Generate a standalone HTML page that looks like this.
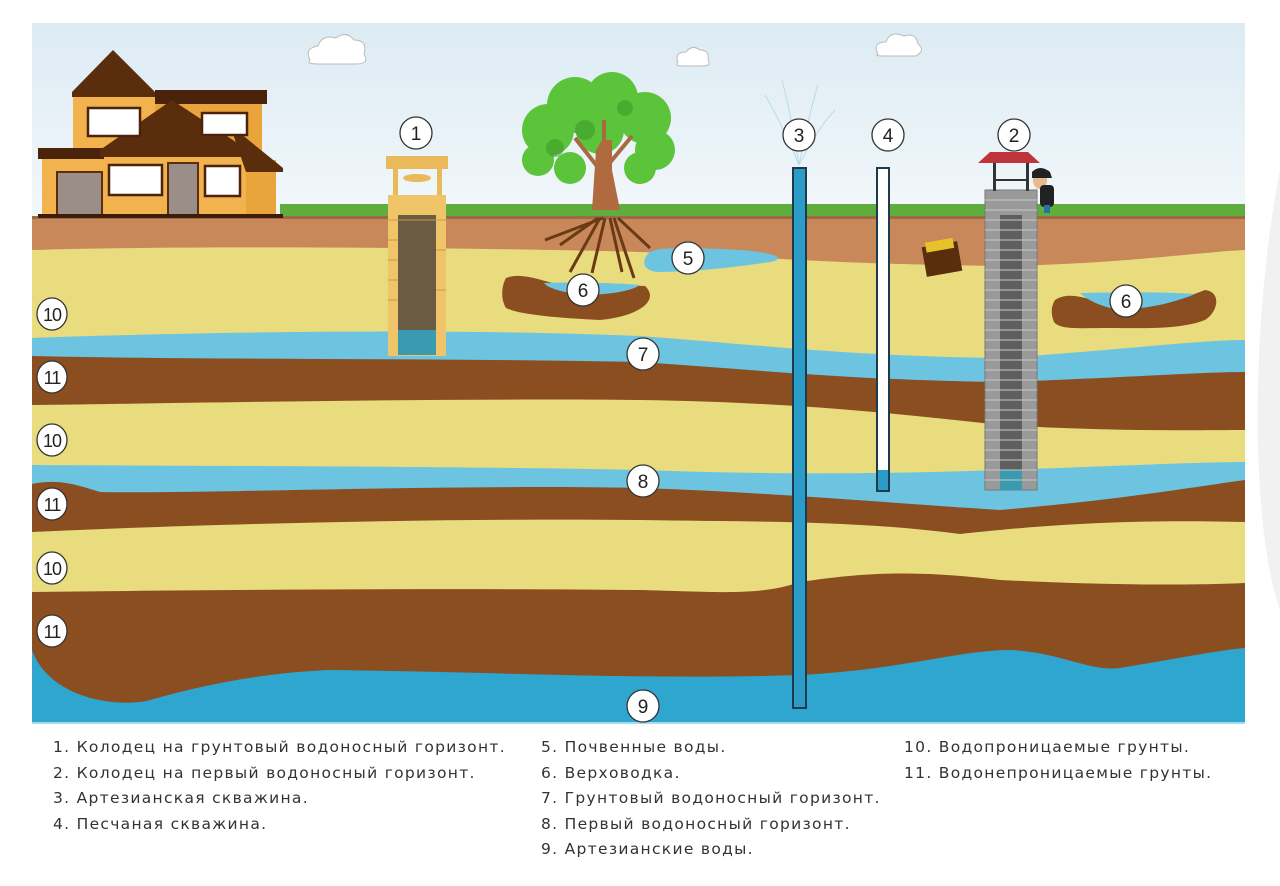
<!DOCTYPE html>
<html><head><meta charset="utf-8"><style>
html,body{margin:0;padding:0;background:#fff;}
body{width:1280px;height:886px;overflow:hidden;position:relative;font-family:"Liberation Sans","DejaVu Sans",sans-serif;}
svg{position:absolute;left:0;top:0;}
.lg{position:absolute;font-family:"DejaVu Sans","Liberation Sans",sans-serif;font-size:15.5px;letter-spacing:1.3px;color:#333;line-height:25.5px;white-space:nowrap;}
</style></head><body>
<svg width="1280" height="886" viewBox="0 0 1280 886" font-family="Liberation Sans, DejaVu Sans, sans-serif">
<defs>
<linearGradient id="sky" x1="0" y1="0" x2="0" y2="1"><stop offset="0" stop-color="#dcebf3"/><stop offset="1" stop-color="#f3f8fb"/></linearGradient>
<clipPath id="cp"><rect x="32" y="23" width="1213" height="701"/></clipPath>
</defs>
<path d="M1280 170 Q1255 300 1258 450 Q1262 560 1280 610 Z" fill="#f1f1f1"/>
<g clip-path="url(#cp)">
<rect x="32" y="23" width="1213" height="200" fill="url(#sky)"/>
<g fill="#fff" stroke="#bbb" stroke-width="1">
<path d="M310 60 q-6-12 8-14 q4-12 18-8 q10-8 18 2 q14 0 10 14 q6 10-8 10 h-38 q-12 0-8-4z"/>
<path d="M678 62 q-4-10 8-10 q6-8 14-2 q10 0 8 10 q4 6-6 6 h-20 q-8 0-4-4z"/>
<path d="M878 54 q-6-12 8-12 q4-12 18-6 q12-4 14 8 q8 6-2 12 h-32 q-10 0-6-2z"/>
</g>
<g stroke="#9fd3ea" stroke-width="1" fill="none" opacity="0.7">
<path d="M799 165 Q780 120 765 95"/><path d="M799 165 Q790 110 782 80"/><path d="M799 165 Q810 110 818 85"/><path d="M799 165 Q820 125 835 110"/>
</g>
<rect x="32" y="216" width="1213" height="510" fill="#c9885a"/>
<path d="M32 250 C200 245 500 248 640 252 C760 256 820 264 1000 266 C1120 264 1200 252 1245 250 V726 H32Z" fill="#e9dc7e"/>
<path d="M32 338 C200 332 450 328 640 336 C760 345 850 356 1000 358 C1120 350 1200 340 1245 340 V726 H32Z" fill="#6dc4e0"/>
<path d="M32 356 C200 360 450 358 640 362 C760 370 850 380 1000 382 C1120 378 1200 372 1245 372 V726 H32Z" fill="#8a4e21"/>
<path d="M32 405 C200 403 450 398 640 400 C760 402 850 408 1000 425 C1120 432 1200 430 1245 430 V726 H32Z" fill="#e9dc7e"/>
<path d="M32 465 C200 466 450 466 640 470 C760 474 850 475 1000 470 C1120 466 1200 462 1245 462 V726 H32Z" fill="#6dc4e0"/>
<path d="M32 484 C60 478 80 486 100 492 C200 494 450 484 640 488 C760 492 850 500 1000 510 C1120 500 1200 486 1245 480 V726 H32Z" fill="#8a4e21"/>
<path d="M32 532 C200 524 450 518 640 520 C760 522 850 520 960 534 C1000 530 1100 518 1245 522 V726 H32Z" fill="#e9dc7e"/>
<path d="M32 592 C200 590 450 588 640 590 C720 592 760 596 800 582 C850 575 900 568 1000 580 C1120 586 1200 585 1245 583 V726 H32Z" fill="#8a4e21"/>
<path d="M32 650 C50 700 120 708 150 700 C220 680 280 672 330 670 C500 672 640 680 800 675 C900 670 960 650 1010 650 C1060 652 1090 672 1120 668 C1180 658 1220 650 1245 648 V726 H32Z" fill="#2ea6cf"/>
<rect x="32" y="722" width="1213" height="3" fill="#a6dbea"/>
<rect x="280" y="204" width="965" height="14" fill="#5fae3d"/>
<rect x="32" y="216" width="1213" height="3" fill="#9a6b45"/>
<path d="M650 252 C660 246 700 248 740 250 C770 252 790 258 770 262 C730 268 690 272 660 272 C640 272 642 258 650 252Z" fill="#6dc4e0"/>
<path d="M506 278 C520 272 540 280 560 285 C590 290 620 285 645 286 C660 300 640 316 600 320 C560 318 520 315 506 308 C500 298 502 285 506 278Z" fill="#8a4e21"/>
<path d="M544 283 C570 282 620 283 640 285 C630 292 600 296 580 294 C560 292 548 288 544 283Z" fill="#6dc4e0"/>
<path d="M1055 300 C1070 290 1090 300 1110 305 C1140 310 1180 300 1205 290 C1222 292 1218 312 1205 320 C1180 330 1140 328 1110 328 C1080 328 1060 330 1054 322 C1050 312 1052 305 1055 300Z" fill="#8a4e21"/>
<path d="M1080 293 C1120 292 1170 292 1195 294 C1170 305 1130 312 1110 308 C1095 304 1085 298 1080 293Z" fill="#6dc4e0"/>
<g stroke="#6a3a14" stroke-width="3" fill="none">
<path d="M598 218 L560 245"/><path d="M600 218 L570 272"/><path d="M605 218 L592 273"/><path d="M610 218 L622 272"/><path d="M614 218 L634 278"/><path d="M618 218 L650 248"/><path d="M603 218 L545 240"/>
</g>
<g fill="#5cc43a">
<circle cx="548" cy="130" r="26"/><circle cx="575" cy="105" r="28"/><circle cx="612" cy="98" r="26"/><circle cx="645" cy="118" r="26"/><circle cx="655" cy="150" r="20"/><circle cx="538" cy="160" r="16"/><circle cx="570" cy="168" r="16"/><circle cx="640" cy="168" r="16"/><circle cx="600" cy="130" r="24"/>
</g>
<g fill="#3e9d2a" opacity="0.6"><circle cx="585" cy="130" r="10"/><circle cx="625" cy="108" r="8"/><circle cx="555" cy="148" r="9"/></g>
<g stroke="#a86a40" stroke-width="4" fill="none"><path d="M600 170 L575 138"/><path d="M608 165 L632 136"/><path d="M604 160 L604 120"/></g>
<path d="M592 210 L596 150 L602 140 L612 140 L612 170 L620 210Z" fill="#b06a40"/>
<rect x="42" y="158" width="62" height="58" fill="#f2b24e"/>
<rect x="73" y="96" width="82" height="60" fill="#f2b24e"/>
<rect x="155" y="103" width="107" height="52" fill="#e9a43c"/>
<rect x="102" y="153" width="146" height="63" fill="#f2b24e"/>
<rect x="246" y="160" width="30" height="56" fill="#e9a43c"/>
<polygon points="113,50 72,92 72,97 155,97 155,92" fill="#5a2d0c"/>
<rect x="155" y="90" width="112" height="14" fill="#4a230a"/>
<rect x="38" y="148" width="66" height="11" fill="#4a230a"/>
<polygon points="230,125 283,168 283,172 246,172" fill="#5a2d0c"/>
<polygon points="172,100 100,150 100,157 248,157 248,150" fill="#5a2d0c"/>
<rect x="57" y="172" width="45" height="44" fill="#9b8e88" stroke="#5a2d0c" stroke-width="2"/>
<rect x="168" y="163" width="30" height="53" fill="#9b8e88" stroke="#5a2d0c" stroke-width="2"/>
<g fill="#fff" stroke="#4a230a" stroke-width="2.5">
<rect x="88" y="108" width="52" height="28"/><rect x="202" y="113" width="45" height="22"/>
<rect x="109" y="165" width="53" height="30"/><rect x="205" y="166" width="35" height="30"/>
</g>
<rect x="38" y="214" width="245" height="4" fill="#3d1d08"/>
<rect x="388" y="210" width="58" height="146" fill="#f0c56a"/>
<rect x="398" y="215" width="38" height="140" fill="#6b5b45"/>
<rect x="398" y="330" width="38" height="25" fill="#3a9bb0"/>
<g stroke="#c79a45" stroke-width="1">
<line x1="388" y1="220" x2="446" y2="220"/><line x1="388" y1="240" x2="398" y2="240"/><line x1="388" y1="260" x2="398" y2="260"/><line x1="388" y1="280" x2="398" y2="280"/><line x1="388" y1="300" x2="398" y2="300"/><line x1="436" y1="250" x2="446" y2="250"/><line x1="436" y1="290" x2="446" y2="290"/>
</g>
<rect x="386" y="156" width="62" height="13" fill="#e9b95a"/>
<rect x="393" y="169" width="5" height="35" fill="#e9b95a"/><rect x="437" y="169" width="5" height="35" fill="#e9b95a"/>
<ellipse cx="417" cy="178" rx="14" ry="4" fill="#e9b95a"/>
<rect x="388" y="195" width="58" height="16" fill="#f0c56a"/>
<rect x="793" y="168" width="13" height="540" fill="#2b9cc7" stroke="#1d3b4a" stroke-width="2"/>
<rect x="877" y="168" width="12" height="323" fill="#fff" stroke="#1d3b4a" stroke-width="2"/>
<rect x="878" y="470" width="10" height="20" fill="#2b9cc7"/>
<rect x="924" y="244" width="36" height="30" fill="#5a2d0c" transform="rotate(-10 942 259)"/>
<rect x="928" y="240" width="28" height="10" fill="#e8c22a" transform="rotate(-10 942 259)"/>
<rect x="985" y="190" width="52" height="300" fill="#9a9a9a" stroke="#777" stroke-width="1"/>
<rect x="1000" y="215" width="22" height="275" fill="#5f5f5f"/>
<rect x="1000" y="470" width="22" height="20" fill="#3a9bb0"/>
<g stroke="#c8c8c8" stroke-width="1">
<line x1="985" y1="200" x2="1037" y2="200"/><line x1="985" y1="210" x2="1037" y2="210"/><line x1="985" y1="220" x2="1037" y2="220"/><line x1="985" y1="230" x2="1037" y2="230"/><line x1="985" y1="240" x2="1037" y2="240"/><line x1="985" y1="250" x2="1037" y2="250"/><line x1="985" y1="260" x2="1037" y2="260"/><line x1="985" y1="270" x2="1037" y2="270"/><line x1="985" y1="280" x2="1037" y2="280"/><line x1="985" y1="290" x2="1037" y2="290"/><line x1="985" y1="300" x2="1037" y2="300"/><line x1="985" y1="310" x2="1037" y2="310"/><line x1="985" y1="320" x2="1037" y2="320"/><line x1="985" y1="330" x2="1037" y2="330"/><line x1="985" y1="340" x2="1037" y2="340"/><line x1="985" y1="350" x2="1037" y2="350"/><line x1="985" y1="360" x2="1037" y2="360"/><line x1="985" y1="370" x2="1037" y2="370"/><line x1="985" y1="380" x2="1037" y2="380"/><line x1="985" y1="390" x2="1037" y2="390"/><line x1="985" y1="400" x2="1037" y2="400"/><line x1="985" y1="410" x2="1037" y2="410"/><line x1="985" y1="420" x2="1037" y2="420"/><line x1="985" y1="430" x2="1037" y2="430"/><line x1="985" y1="440" x2="1037" y2="440"/><line x1="985" y1="450" x2="1037" y2="450"/><line x1="985" y1="460" x2="1037" y2="460"/><line x1="985" y1="470" x2="1037" y2="470"/><line x1="985" y1="480" x2="1037" y2="480"/>
</g>
<polygon points="990,152 1028,152 1040,163 978,163" fill="#c0353b"/>
<rect x="993" y="163" width="3" height="28" fill="#333"/><rect x="1026" y="163" width="3" height="28" fill="#333"/>
<line x1="993" y1="180" x2="1029" y2="180" stroke="#333" stroke-width="2"/>
<ellipse cx="1040" cy="180" rx="7" ry="9" fill="#e8b890"/>
<path d="M1032 172 q8-8 18 0 l2 6 h-20z" fill="#222"/>
<rect x="1040" y="185" width="14" height="22" rx="4" fill="#222"/>
<rect x="1044" y="205" width="6" height="8" fill="#2b6fa8"/>
</g>
<g font-size="19" text-anchor="middle" fill="#222">
<g stroke="#333" stroke-width="1.3" fill="#fff">
<circle cx="416" cy="133" r="16"/><circle cx="799" cy="135" r="16"/><circle cx="888" cy="135" r="16"/><circle cx="1014" cy="135" r="16"/>
<circle cx="688" cy="258" r="16"/><circle cx="583" cy="290" r="16"/><circle cx="1126" cy="301" r="16"/>
<circle cx="643" cy="354" r="16"/><circle cx="643" cy="481" r="16"/><circle cx="643" cy="706" r="16"/>
<ellipse cx="52" cy="314" rx="15" ry="16"/><ellipse cx="52" cy="377" rx="15" ry="16"/><ellipse cx="52" cy="440" rx="15" ry="16"/>
<ellipse cx="52" cy="504" rx="15" ry="16"/><ellipse cx="52" cy="568" rx="15" ry="16"/><ellipse cx="52" cy="631" rx="15" ry="16"/>
</g>
<text x="416" y="140">1</text><text x="799" y="142">3</text><text x="888" y="142">4</text><text x="1014" y="142">2</text>
<text x="688" y="265">5</text><text x="583" y="297">6</text><text x="1126" y="308">6</text>
<text x="643" y="361">7</text><text x="643" y="488">8</text><text x="643" y="713">9</text>
<g font-size="18" letter-spacing="-1"><text x="52" y="321">10</text><text x="52" y="384">11</text><text x="52" y="447">10</text><text x="52" y="511">11</text><text x="52" y="575">10</text><text x="52" y="638">11</text></g>
</g>
</svg>
<div class="lg" style="left:53px;top:735px;">1. Колодец на грунтовый водоносный горизонт.<br>2. Колодец на первый водоносный горизонт.<br>3. Артезианская скважина.<br>4. Песчаная скважина.</div>
<div class="lg" style="left:541px;top:735px;">5. Почвенные воды.<br>6. Верховодка.<br>7. Грунтовый водоносный горизонт.<br>8. Первый водоносный горизонт.<br>9. Артезианские воды.</div>
<div class="lg" style="left:904px;top:735px;">10. Водопроницаемые грунты.<br>11. Водонепроницаемые грунты.</div>
</body></html>
